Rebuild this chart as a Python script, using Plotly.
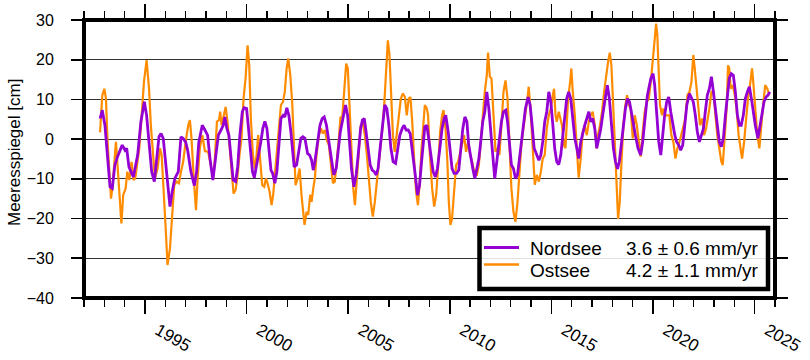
import plotly.graph_objects as go

# ---------------- data ----------------
nordsee_year = [1992.79, 1992.90, 1993.03, 1993.16, 1993.28, 1993.39, 1993.52, 1993.65, 1993.77, 1993.88,
    1994.02, 1994.10, 1994.21, 1994.31, 1994.43, 1994.51, 1994.64, 1994.80, 1994.97, 1995.08,
    1995.20, 1995.33, 1995.46, 1995.57, 1995.69, 1995.79, 1995.90, 1995.98, 1996.10, 1996.23,
    1996.34, 1996.47, 1996.64, 1996.77, 1996.87, 1997.00, 1997.10, 1997.26, 1997.43, 1997.54,
    1997.65, 1997.82, 1997.95, 1998.08, 1998.20, 1998.34, 1998.47, 1998.61, 1998.74, 1998.85,
    1998.93, 1999.03, 1999.13, 1999.23, 1999.34, 1999.46, 1999.56, 1999.67, 1999.79, 1999.88,
    2000.00, 2000.08, 2000.20, 2000.29, 2000.38, 2000.49, 2000.61, 2000.70, 2000.80, 2000.90,
    2001.00, 2001.10, 2001.20, 2001.28, 2001.39, 2001.49, 2001.59, 2001.69, 2001.80, 2001.88,
    2001.98, 2002.08, 2002.18, 2002.26, 2002.34, 2002.46, 2002.57, 2002.67, 2002.77, 2002.87,
    2003.00, 2003.10, 2003.20, 2003.28, 2003.36, 2003.49, 2003.61, 2003.72, 2003.82, 2003.93,
    2004.05, 2004.18, 2004.29, 2004.41, 2004.51, 2004.61, 2004.74, 2004.87, 2004.97, 2005.06,
    2005.16, 2005.28, 2005.39, 2005.49, 2005.61, 2005.70, 2005.79, 2005.88, 2005.98, 2006.08,
    2006.18, 2006.28, 2006.38, 2006.47, 2006.57, 2006.69, 2006.80, 2006.90, 2007.00, 2007.10,
    2007.21, 2007.33, 2007.43, 2007.54, 2007.66, 2007.75, 2007.85, 2007.95, 2008.05, 2008.15,
    2008.28, 2008.41, 2008.51, 2008.61, 2008.70, 2008.77, 2008.87, 2008.97, 2009.07, 2009.18,
    2009.29, 2009.39, 2009.51, 2009.62, 2009.72, 2009.80, 2009.92, 2010.02, 2010.11, 2010.21,
    2010.33, 2010.44, 2010.54, 2010.64, 2010.74, 2010.84, 2010.93, 2011.03, 2011.13, 2011.23,
    2011.33, 2011.43, 2011.52, 2011.62, 2011.72, 2011.82, 2011.92, 2012.02, 2012.11, 2012.21,
    2012.31, 2012.41, 2012.54, 2012.64, 2012.75, 2012.84, 2012.93, 2013.03, 2013.13, 2013.23,
    2013.33, 2013.43, 2013.52, 2013.62, 2013.72, 2013.85, 2013.95, 2014.05, 2014.15, 2014.28,
    2014.38, 2014.48, 2014.57, 2014.67, 2014.77, 2014.87, 2014.97, 2015.07, 2015.16, 2015.26,
    2015.36, 2015.46, 2015.56, 2015.66, 2015.75, 2015.85, 2015.95, 2016.05, 2016.15, 2016.25,
    2016.34, 2016.44, 2016.54, 2016.64, 2016.74, 2016.84, 2016.93, 2017.03, 2017.13, 2017.23,
    2017.33, 2017.43, 2017.52, 2017.62, 2017.75, 2017.85, 2017.95, 2018.05, 2018.15, 2018.25,
    2018.34, 2018.44, 2018.54, 2018.64, 2018.74, 2018.84, 2018.93, 2019.03, 2019.13, 2019.26,
    2019.39, 2019.49, 2019.59, 2019.72, 2019.89, 2020.00, 2020.08, 2020.18, 2020.28, 2020.38,
    2020.48, 2020.57, 2020.67, 2020.77, 2020.87, 2020.97, 2021.07, 2021.16, 2021.26, 2021.36,
    2021.46, 2021.56, 2021.66, 2021.79, 2021.89, 2021.98, 2022.08, 2022.18, 2022.28, 2022.38,
    2022.48, 2022.57, 2022.67, 2022.77, 2022.87, 2022.97, 2023.07, 2023.16, 2023.26, 2023.36,
    2023.46, 2023.56, 2023.66, 2023.75, 2023.85, 2023.95, 2024.05, 2024.15, 2024.25, 2024.34,
    2024.44, 2024.54, 2024.64, 2024.74, 2024.84, 2024.93, 2025.03, 2025.16, 2025.26, 2025.36,
    2025.46, 2025.56, 2025.66, 2025.74]
nordsee_cm = [5.2, 7.3, 3.5, -4.0, -12.0, -12.4, -6.5, -4.4, -3.0, -1.5,
    -2.8, -2.3, -7.0, -8.2, -9.5, -7.4, -4.0, 4.4, 9.4, 6.0,
    -0.7, -8.2, -10.7, -5.7, 0.6, 1.4, 0.2, -4.0, -9.9, -17.0,
    -13.2, -9.9, -8.2, 0.6, 0.2, -0.7, -2.8, -8.2, -11.7, -8.2,
    -0.7, 3.5, 2.3, 1.0, -4.9, -10.3, -4.9, 1.0, 2.3, 3.5,
    5.6, 2.7, 1.0, -4.0, -10.3, -10.7, -7.0, 1.0, 6.9, 7.9,
    7.7, 3.5, -3.2, -8.2, -9.7, -6.5, -4.0, -0.7, 2.7, 4.5,
    2.7, -2.3, -7.8, -8.6, -11.1, -8.2, -1.5, 5.2, 6.0, 5.6,
    7.9, 6.0, 1.8, -2.3, -7.0, -6.5, -2.3, 0.2, 0.6, 0.2,
    -3.6, -4.0, -5.3, -7.8, -5.7, -0.7, 3.5, 5.2, 5.6, 3.5,
    -0.7, -5.7, -9.0, -7.4, -3.2, 1.8, 5.2, 8.6, 6.0, -0.7,
    -7.4, -12.0, -9.0, -4.0, 2.7, 4.8, 5.2, 1.8, -2.3, -6.5,
    -7.8, -8.2, -9.0, -7.4, -2.3, 3.5, 8.6, 7.7, 3.5, -2.3,
    -5.7, -6.1, -2.3, 1.0, 2.7, 3.5, 2.3, 2.3, 1.4, -2.3,
    -8.2, -14.1, -11.6, -5.7, -0.7, 3.1, 3.5, -0.7, -4.9, -8.2,
    -9.5, -7.4, -2.3, 2.7, 5.2, 6.0, 1.8, -4.0, -7.4, -8.6,
    -8.6, -7.8, -2.3, 2.7, 5.6, 4.4, -1.5, -4.9, -7.4, -9.9,
    -7.4, -4.9, -0.7, 4.4, 6.9, 11.9, 7.7, 1.8, -4.0, -9.9,
    -5.7, -0.7, 4.4, 6.9, 7.3, 4.4, -0.7, -6.5, -7.4, -9.9,
    -9.0, -4.9, -0.7, 3.5, 7.7, 10.6, 8.6, 3.5, -2.3, -4.0,
    -5.3, -4.0, -0.7, 4.4, 6.9, 11.9, 9.4, 3.5, -2.3, -5.7,
    -6.4, -4.0, 1.0, 6.0, 10.2, 11.9, 10.2, 5.2, 0.2, -2.3,
    -4.9, -0.7, 1.8, 3.5, 5.2, 6.9, 4.4, 5.2, 2.7, -2.3,
    0.2, 2.7, 6.0, 9.4, 13.6, 10.2, 3.5, -2.3, -5.7, -7.5,
    -5.7, -0.7, 4.4, 7.7, 10.2, 9.4, 6.9, 3.5, 1.0, -2.3,
    -4.0, -0.7, 5.2, 11.0, 15.3, 16.5, 13.6, 6.0, -0.7, -4.0,
    1.8, 6.0, 9.4, 10.6, 6.9, 3.5, 1.0, -0.7, -1.5, -2.8,
    -1.5, 3.5, 8.6, 11.5, 10.2, 9.4, 6.0, 1.8, -0.7, 1.0,
    2.7, 6.9, 11.1, 12.7, 15.7, 11.9, 7.7, 3.5, -0.7, -1.9,
    0.2, 6.0, 11.1, 15.3, 16.5, 16.1, 11.9, 6.0, 3.5, 3.5,
    6.0, 10.2, 11.9, 13.2, 10.2, 6.9, 3.5, 0.2, 3.5, 6.9,
    9.4, 10.6, 11.1, 11.9]

ostsee_year = [1992.79, 1992.90, 1993.00, 1993.08, 1993.16, 1993.24, 1993.33, 1993.41, 1993.49, 1993.57,
    1993.65, 1993.75, 1993.84, 1993.93, 1994.05, 1994.13, 1994.23, 1994.34, 1994.44, 1994.52,
    1994.62, 1994.72, 1994.84, 1994.95, 1995.08, 1995.20, 1995.29, 1995.41, 1995.49, 1995.62,
    1995.74, 1995.82, 1995.92, 1996.02, 1996.11, 1996.23, 1996.34, 1996.44, 1996.56, 1996.67,
    1996.77, 1996.88, 1997.00, 1997.13, 1997.21, 1997.29, 1997.39, 1997.51, 1997.59, 1997.70,
    1997.82, 1997.95, 1998.11, 1998.25, 1998.36, 1998.44, 1998.54, 1998.64, 1998.70, 1998.77,
    1998.87, 1998.97, 1999.06, 1999.16, 1999.26, 1999.36, 1999.46, 1999.56, 1999.65, 1999.75,
    1999.85, 1999.95, 2000.05, 2000.13, 2000.21, 2000.31, 2000.41, 2000.49, 2000.57, 2000.65,
    2000.77, 2000.87, 2000.95, 2001.03, 2001.13, 2001.23, 2001.31, 2001.39, 2001.49, 2001.59,
    2001.69, 2001.79, 2001.88, 2001.97, 2002.05, 2002.15, 2002.25, 2002.33, 2002.41, 2002.51,
    2002.61, 2002.70, 2002.79, 2002.85, 2002.95, 2003.03, 2003.13, 2003.20, 2003.28, 2003.36,
    2003.44, 2003.56, 2003.66, 2003.75, 2003.85, 2003.95, 2004.05, 2004.15, 2004.25, 2004.34,
    2004.44, 2004.54, 2004.62, 2004.70, 2004.80, 2004.90, 2004.98, 2005.06, 2005.16, 2005.25,
    2005.33, 2005.43, 2005.52, 2005.62, 2005.72, 2005.82, 2005.92, 2006.02, 2006.11, 2006.21,
    2006.31, 2006.41, 2006.51, 2006.61, 2006.70, 2006.79, 2006.87, 2006.95, 2007.03, 2007.11,
    2007.20, 2007.29, 2007.39, 2007.49, 2007.59, 2007.69, 2007.79, 2007.88, 2007.98, 2008.06,
    2008.15, 2008.25, 2008.34, 2008.43, 2008.51, 2008.61, 2008.70, 2008.77, 2008.87, 2008.93,
    2009.02, 2009.13, 2009.23, 2009.33, 2009.43, 2009.52, 2009.62, 2009.69, 2009.79, 2009.88,
    2009.95, 2010.03, 2010.11, 2010.21, 2010.31, 2010.41, 2010.51, 2010.61, 2010.70, 2010.80,
    2010.90, 2011.00, 2011.10, 2011.23, 2011.33, 2011.43, 2011.52, 2011.62, 2011.72, 2011.82,
    2011.88, 2011.97, 2012.05, 2012.15, 2012.25, 2012.34, 2012.44, 2012.54, 2012.64, 2012.74,
    2012.84, 2012.93, 2013.03, 2013.13, 2013.23, 2013.33, 2013.43, 2013.52, 2013.62, 2013.72,
    2013.82, 2013.88, 2013.98, 2014.08, 2014.18, 2014.28, 2014.38, 2014.48, 2014.57, 2014.67,
    2014.77, 2014.87, 2014.97, 2015.07, 2015.13, 2015.20, 2015.26, 2015.36, 2015.43, 2015.52,
    2015.62, 2015.69, 2015.75, 2015.82, 2015.92, 2015.98, 2016.05, 2016.15, 2016.25, 2016.34,
    2016.44, 2016.54, 2016.64, 2016.74, 2016.84, 2016.93, 2017.03, 2017.13, 2017.23, 2017.29,
    2017.39, 2017.49, 2017.59, 2017.69, 2017.79, 2017.87, 2017.95, 2018.03, 2018.11, 2018.20,
    2018.28, 2018.36, 2018.44, 2018.54, 2018.64, 2018.72, 2018.80, 2018.90, 2019.00, 2019.10,
    2019.20, 2019.29, 2019.39, 2019.49, 2019.59, 2019.69, 2019.79, 2019.89, 2019.98, 2020.08,
    2020.15, 2020.21, 2020.28, 2020.34, 2020.44, 2020.51, 2020.61, 2020.70, 2020.80, 2020.90,
    2021.00, 2021.10, 2021.20, 2021.30, 2021.39, 2021.49, 2021.59, 2021.69, 2021.79, 2021.89,
    2021.98, 2022.05, 2022.13, 2022.21, 2022.31, 2022.41, 2022.51, 2022.61, 2022.67, 2022.77,
    2022.87, 2022.97, 2023.07, 2023.16, 2023.26, 2023.36, 2023.43, 2023.52, 2023.62, 2023.69,
    2023.75, 2023.82, 2023.92, 2024.02, 2024.11, 2024.21, 2024.31, 2024.38, 2024.48, 2024.57,
    2024.67, 2024.77, 2024.87, 2024.93, 2025.03, 2025.13, 2025.23, 2025.33, 2025.43, 2025.52,
    2025.62, 2025.72]
ostsee_cm = [1.7, 11.0, 12.7, 10.2, -0.7, -9.0, -15.0, -11.6, -5.7, -0.7,
    -6.5, -15.8, -21.2, -14.0, -12.4, -8.2, -10.3, -5.7, -10.3, -9.9,
    -5.7, -2.3, 6.0, 14.4, 19.9, 12.7, 3.5, -4.9, -9.9, -7.4,
    -2.3, -4.0, -12.4, -22.5, -31.7, -27.5, -19.1, -11.6, -10.7, -11.1,
    -8.2, -5.7, -0.7, 3.5, 4.8, 0.2, -9.0, -17.9, -9.9, -2.3,
    1.0, -3.0, -3.2, -7.4, -9.9, -4.9, 4.4, 4.8, 6.9, 3.5,
    6.0, 8.1, 4.4, -2.3, -9.0, -13.7, -12.8, -9.0, -4.0, 0.2,
    10.2, 15.3, 23.6, 18.6, 5.2, -4.0, -7.4, -4.0, 1.0, -4.9,
    -11.6, -12.0, -9.9, -11.1, -13.2, -16.6, -14.0, -9.0, -4.0, 2.7,
    8.6, 9.4, 11.9, 17.8, 20.3, 16.1, 8.6, -2.3, -11.6, -9.9,
    -7.4, -14.0, -19.1, -21.6, -18.3, -19.1, -14.0, -15.8, -12.4, -9.9,
    -4.0, 1.0, 2.7, 1.4, 2.3, -0.3, -1.5, -5.7, -11.1, -10.7,
    -5.7, 0.2, 5.6, 5.2, 11.9, 19.0, 17.8, 7.7, -3.2, -12.4,
    -16.6, -9.9, -2.3, 3.5, 3.9, 1.0, -4.0, -10.7, -15.8, -19.5,
    -15.8, -10.7, -5.7, -2.3, 3.5, 10.2, 17.8, 24.9, 21.2, 11.1,
    1.0, -3.2, 1.8, 6.9, 10.2, 11.5, 10.6, 6.0, 10.2, 10.6,
    4.4, -5.7, -13.2, -16.6, -11.6, -2.3, 4.4, 8.6, 7.7, 6.0,
    -4.0, -12.4, -17.0, -14.0, -6.5, 1.8, 6.0, 7.3, 2.7, -5.7,
    -15.8, -21.6, -20.0, -14.0, -6.5, -5.7, -3.2, -0.7, 1.0, -3.2,
    -0.7, -4.0, -5.7, -9.0, -9.0, -6.5, -0.7, 6.0, 11.9, 16.1,
    21.8, 15.7, 15.3, 6.0, -3.2, -2.3, -4.0, 3.5, 11.9, 14.8,
    10.2, -0.7, -12.4, -18.3, -20.8, -15.8, -6.5, -1.5, 2.7, 6.0,
    10.2, 13.2, 6.9, -2.3, -11.5, -9.0, -10.7, -8.2, -4.9, -4.0,
    2.7, 6.0, 7.7, 11.1, 12.7, 6.0, 4.4, 6.9, 5.2, 3.5,
    -1.5, -2.3, 3.5, 10.2, 14.4, 17.8, 11.9, 6.0, -2.3, -9.7,
    -4.9, 1.8, 3.5, 1.0, 4.4, 6.0, 6.9, 3.5, -2.3, 1.0,
    3.5, 6.9, 11.9, 16.1, 19.5, 21.8, 18.6, 9.4, -2.3, -10.7,
    -20.1, -15.8, -6.5, 3.5, 8.6, 11.1, 8.6, 7.7, 0.2, 6.0,
    3.5, -0.7, -4.4, 1.8, 6.9, 9.4, 10.2, 14.4, 20.3, 26.1,
    29.1, 26.1, 16.1, 8.6, 6.0, 7.7, 6.0, 6.0, 6.0, 1.0,
    -0.7, -4.9, -2.3, -0.7, 1.0, 2.7, 5.2, 11.1, 11.9, 14.4,
    21.2, 17.8, 13.6, 8.6, 3.5, 5.2, 1.0, 2.7, 4.4, 7.7,
    11.9, 11.9, 6.0, 1.0, -2.3, -5.7, -6.5, -0.7, 7.7, 18.6,
    17.8, 12.7, 13.6, 11.1, 7.7, 1.0, -3.2, -4.9, -0.7, 5.2,
    10.2, 13.6, 17.8, 14.4, 7.7, 1.0, -2.3, 4.4, 9.4, 13.6,
    12.7, 11.1]

series_names = ["Nordsee", "Ostsee"]
trend_labels = ["3.6 \u00b1 0.6 mm/yr", "4.2 \u00b1 1.1 mm/yr"]
y_title = "Meeresspiegel [cm]"

PURPLE = "#9400D3"
ORANGE = "#FF8C00"
FONT = "Liberation Sans, Arial, Helvetica, sans-serif"

# ---------------- figure ----------------
W, H = 810, 360
ML, MR, MT, MB = 84, 35, 20, 62
PW, PH = W - ML - MR, H - MT - MB


def px(x):
    return (x - ML) / PW


def py(y):
    return (H - MB - y) / PH


fig = go.Figure()
fig.add_trace(go.Scatter(x=ostsee_year, y=ostsee_cm, mode="lines", name=series_names[1],
                         line=dict(color=ORANGE, width=2.2), showlegend=False))
fig.add_trace(go.Scatter(x=nordsee_year, y=nordsee_cm, mode="lines", name=series_names[0],
                         line=dict(color=PURPLE, width=2.8), showlegend=False))

shapes = [
    # plot frame
    dict(type="rect", xref="paper", yref="paper", x0=0, x1=1, y0=0, y1=1,
         line=dict(color="black", width=4), layer="above"),
    # legend box
    dict(type="rect", xref="paper", yref="paper", x0=px(479.5), x1=px(768), y0=py(289), y1=py(228),
         line=dict(color="black", width=4.5), fillcolor="rgba(255,255,255,0.85)", layer="above"),
    # legend samples
    dict(type="line", xref="paper", yref="paper", x0=px(484), x1=px(519), y0=py(247.5), y1=py(247.5),
         line=dict(color=PURPLE, width=3), layer="above"),
    dict(type="line", xref="paper", yref="paper", x0=px(484), x1=px(519), y0=py(264.5), y1=py(264.5),
         line=dict(color=ORANGE, width=2.4), layer="above"),
]

annotations = [
    dict(text=series_names[0], xref="paper", yref="paper", x=px(528), y=py(248.5),
         xanchor="left", yanchor="middle", showarrow=False, font=dict(size=19, color="black", family=FONT)),
    dict(text=series_names[1], xref="paper", yref="paper", x=px(528), y=py(270),
         xanchor="left", yanchor="middle", showarrow=False, font=dict(size=19, color="black", family=FONT)),
    dict(text=trend_labels[0], xref="paper", yref="paper", x=px(624), y=py(248.5),
         xanchor="left", yanchor="middle", showarrow=False, font=dict(size=19, color="black", family=FONT)),
    dict(text=trend_labels[1], xref="paper", yref="paper", x=px(624), y=py(270),
         xanchor="left", yanchor="middle", showarrow=False, font=dict(size=19, color="black", family=FONT)),
    dict(text=y_title, xref="paper", yref="paper", x=px(14), y=py(153),
         xanchor="center", yanchor="middle", textangle=-90, showarrow=False,
         font=dict(size=17, color="black", family=FONT)),
]

fig.update_layout(
    width=W, height=H,
    margin=dict(l=ML, r=MR, t=MT, b=MB, pad=0, autoexpand=False),
    paper_bgcolor="white", plot_bgcolor="white",
    font=dict(family=FONT, color="black"),
    showlegend=False,
    hovermode=False,
    shapes=shapes,
    annotations=annotations,
    xaxis=dict(
        range=[1992, 2026], tickmode="linear", tick0=1995, dtick=5, automargin=False,
        ticks="outside", ticklen=15, tickwidth=1.6, tickcolor="black",
        mirror="ticks", showline=False, showgrid=False, zeroline=False,
        tickangle=30, tickfont=dict(size=17, color="black", family=FONT),
        ticklabelshift=13,
        minor=dict(tick0=1992, dtick=1, ticks="outside", ticklen=8, tickwidth=1.4,
                   tickcolor="black", showgrid=False),
    ),
    yaxis=dict(
        range=[-40, 30], tickmode="linear", tick0=-40, dtick=10, automargin=False,
        ticks="outside", ticklen=12, tickwidth=1.6, tickcolor="black",
        mirror="ticks", showline=False, showgrid=True, gridcolor="#333333", gridwidth=1.2,
        zeroline=False, tickfont=dict(size=16, color="black", family=FONT),
        ticklabelstandoff=14,
    ),
)

# the page's default 8px body margin would offset the chart; remove it
fig.write_html("out.html", config={"displayModeBar": False, "staticPlot": True},
               post_script="document.body.style.margin='0';")
